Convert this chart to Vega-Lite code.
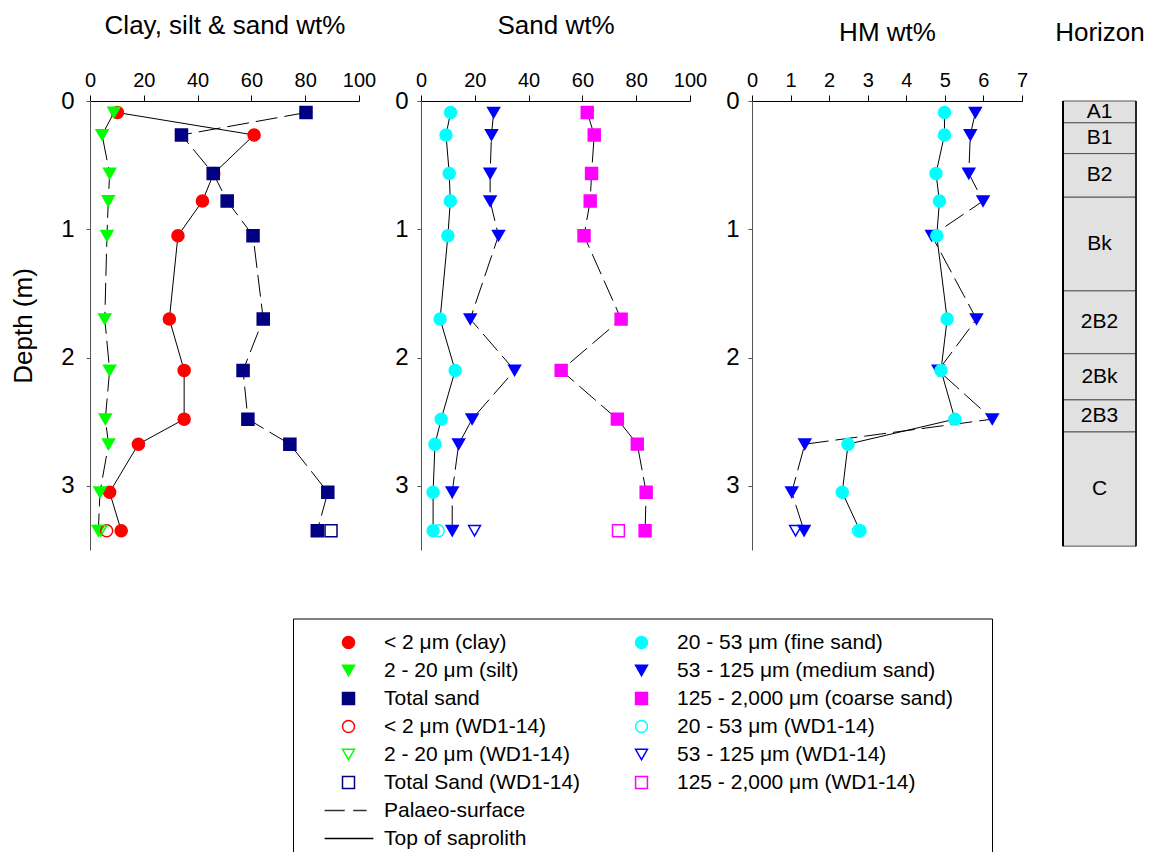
{
  "$schema": "https://vega.github.io/schema/vega-lite/v6.json",
  "background": "white",
  "autosize": {"type": "pad"},
  "padding": {"left": 10, "top": 12, "right": 5, "bottom": 5},
  "bounds": "flush",
  "spacing": 41,
  "config": {
    "font": "Liberation Sans",
    "view": {"stroke": null},
    "axis": {"labelFont": "Liberation Sans", "titleFont": "Liberation Sans", "labelColor": "black", "titleColor": "black", "titleFontWeight": "normal", "grid": false, "labelFlush": false, "labelOverlap": false},
    "legend": {"labelFont": "Liberation Sans", "titleFont": "Liberation Sans"}
  },
  "datasets": {
    "profile": [
      {"panel": "A", "series": "< 2 μm (clay)", "depth": 0.09, "value": 10.2},
      {"panel": "A", "series": "< 2 μm (clay)", "depth": 0.265, "value": 61.0},
      {"panel": "A", "series": "< 2 μm (clay)", "depth": 0.565, "value": 46.0},
      {"panel": "A", "series": "< 2 μm (clay)", "depth": 0.78, "value": 41.8},
      {"panel": "A", "series": "< 2 μm (clay)", "depth": 1.05, "value": 32.7},
      {"panel": "A", "series": "< 2 μm (clay)", "depth": 1.70, "value": 29.5},
      {"panel": "A", "series": "< 2 μm (clay)", "depth": 2.10, "value": 35.0},
      {"panel": "A", "series": "< 2 μm (clay)", "depth": 2.48, "value": 35.0},
      {"panel": "A", "series": "< 2 μm (clay)", "depth": 2.675, "value": 18.0},
      {"panel": "A", "series": "< 2 μm (clay)", "depth": 3.05, "value": 7.3},
      {"panel": "A", "series": "< 2 μm (clay)", "depth": 3.35, "value": 11.6},
      {"panel": "A", "series": "2 - 20 μm (silt)", "depth": 0.09, "value": 8.9},
      {"panel": "A", "series": "2 - 20 μm (silt)", "depth": 0.265, "value": 4.5},
      {"panel": "A", "series": "2 - 20 μm (silt)", "depth": 0.565, "value": 7.3},
      {"panel": "A", "series": "2 - 20 μm (silt)", "depth": 0.78, "value": 6.8},
      {"panel": "A", "series": "2 - 20 μm (silt)", "depth": 1.05, "value": 6.3},
      {"panel": "A", "series": "2 - 20 μm (silt)", "depth": 1.70, "value": 5.5},
      {"panel": "A", "series": "2 - 20 μm (silt)", "depth": 2.10, "value": 7.3},
      {"panel": "A", "series": "2 - 20 μm (silt)", "depth": 2.48, "value": 5.7},
      {"panel": "A", "series": "2 - 20 μm (silt)", "depth": 2.675, "value": 6.9},
      {"panel": "A", "series": "2 - 20 μm (silt)", "depth": 3.05, "value": 3.7},
      {"panel": "A", "series": "2 - 20 μm (silt)", "depth": 3.35, "value": 3.1},
      {"panel": "A", "series": "Total sand", "depth": 0.09, "value": 80.3},
      {"panel": "A", "series": "Total sand", "depth": 0.265, "value": 34.0},
      {"panel": "A", "series": "Total sand", "depth": 0.565, "value": 45.8},
      {"panel": "A", "series": "Total sand", "depth": 0.78, "value": 51.0},
      {"panel": "A", "series": "Total sand", "depth": 1.05, "value": 60.6},
      {"panel": "A", "series": "Total sand", "depth": 1.70, "value": 64.4},
      {"panel": "A", "series": "Total sand", "depth": 2.10, "value": 56.9},
      {"panel": "A", "series": "Total sand", "depth": 2.48, "value": 58.7},
      {"panel": "A", "series": "Total sand", "depth": 2.675, "value": 74.3},
      {"panel": "A", "series": "Total sand", "depth": 3.05, "value": 88.4},
      {"panel": "A", "series": "Total sand", "depth": 3.35, "value": 84.5},
      {"panel": "A", "series": "< 2 μm (WD1-14)", "depth": 3.35, "value": 6.2},
      {"panel": "A", "series": "2 - 20 μm (WD1-14)", "depth": 3.35, "value": 4.0},
      {"panel": "A", "series": "Total Sand (WD1-14)", "depth": 3.35, "value": 89.6},
      {"panel": "B", "series": "20 - 53 μm (fine sand)", "depth": 0.09, "value": 11.0},
      {"panel": "B", "series": "20 - 53 μm (fine sand)", "depth": 0.265, "value": 9.3},
      {"panel": "B", "series": "20 - 53 μm (fine sand)", "depth": 0.565, "value": 10.5},
      {"panel": "B", "series": "20 - 53 μm (fine sand)", "depth": 0.78, "value": 10.9},
      {"panel": "B", "series": "20 - 53 μm (fine sand)", "depth": 1.05, "value": 10.0},
      {"panel": "B", "series": "20 - 53 μm (fine sand)", "depth": 1.70, "value": 7.1},
      {"panel": "B", "series": "20 - 53 μm (fine sand)", "depth": 2.10, "value": 12.7},
      {"panel": "B", "series": "20 - 53 μm (fine sand)", "depth": 2.48, "value": 7.5},
      {"panel": "B", "series": "20 - 53 μm (fine sand)", "depth": 2.675, "value": 5.2},
      {"panel": "B", "series": "20 - 53 μm (fine sand)", "depth": 3.05, "value": 4.5},
      {"panel": "B", "series": "20 - 53 μm (fine sand)", "depth": 3.35, "value": 4.5},
      {"panel": "B", "series": "53 - 125 μm (medium sand)", "depth": 0.09, "value": 27.0},
      {"panel": "B", "series": "53 - 125 μm (medium sand)", "depth": 0.265, "value": 26.2},
      {"panel": "B", "series": "53 - 125 μm (medium sand)", "depth": 0.565, "value": 25.7},
      {"panel": "B", "series": "53 - 125 μm (medium sand)", "depth": 0.78, "value": 25.7},
      {"panel": "B", "series": "53 - 125 μm (medium sand)", "depth": 1.05, "value": 28.8},
      {"panel": "B", "series": "53 - 125 μm (medium sand)", "depth": 1.70, "value": 18.3},
      {"panel": "B", "series": "53 - 125 μm (medium sand)", "depth": 2.10, "value": 34.8},
      {"panel": "B", "series": "53 - 125 μm (medium sand)", "depth": 2.48, "value": 19.0},
      {"panel": "B", "series": "53 - 125 μm (medium sand)", "depth": 2.675, "value": 14.0},
      {"panel": "B", "series": "53 - 125 μm (medium sand)", "depth": 3.05, "value": 11.6},
      {"panel": "B", "series": "53 - 125 μm (medium sand)", "depth": 3.35, "value": 11.6},
      {"panel": "B", "series": "125 - 2,000 μm (coarse sand)", "depth": 0.09, "value": 61.8},
      {"panel": "B", "series": "125 - 2,000 μm (coarse sand)", "depth": 0.265, "value": 64.4},
      {"panel": "B", "series": "125 - 2,000 μm (coarse sand)", "depth": 0.565, "value": 63.4},
      {"panel": "B", "series": "125 - 2,000 μm (coarse sand)", "depth": 0.78, "value": 62.9},
      {"panel": "B", "series": "125 - 2,000 μm (coarse sand)", "depth": 1.05, "value": 60.6},
      {"panel": "B", "series": "125 - 2,000 μm (coarse sand)", "depth": 1.70, "value": 74.4},
      {"panel": "B", "series": "125 - 2,000 μm (coarse sand)", "depth": 2.10, "value": 52.1},
      {"panel": "B", "series": "125 - 2,000 μm (coarse sand)", "depth": 2.48, "value": 73.0},
      {"panel": "B", "series": "125 - 2,000 μm (coarse sand)", "depth": 2.675, "value": 80.4},
      {"panel": "B", "series": "125 - 2,000 μm (coarse sand)", "depth": 3.05, "value": 83.7},
      {"panel": "B", "series": "125 - 2,000 μm (coarse sand)", "depth": 3.35, "value": 83.3},
      {"panel": "B", "series": "20 - 53 μm (WD1-14)", "depth": 3.35, "value": 6.4},
      {"panel": "B", "series": "53 - 125 μm (WD1-14)", "depth": 3.35, "value": 19.9},
      {"panel": "B", "series": "125 - 2,000 μm (WD1-14)", "depth": 3.35, "value": 73.4},
      {"panel": "C", "series": "53 - 125 μm (medium sand)", "depth": 0.09, "value": 5.79},
      {"panel": "C", "series": "53 - 125 μm (medium sand)", "depth": 0.265, "value": 5.66},
      {"panel": "C", "series": "53 - 125 μm (medium sand)", "depth": 0.565, "value": 5.62},
      {"panel": "C", "series": "53 - 125 μm (medium sand)", "depth": 0.78, "value": 5.99},
      {"panel": "C", "series": "53 - 125 μm (medium sand)", "depth": 1.05, "value": 4.66},
      {"panel": "C", "series": "53 - 125 μm (medium sand)", "depth": 1.70, "value": 5.82},
      {"panel": "C", "series": "53 - 125 μm (medium sand)", "depth": 2.10, "value": 4.83},
      {"panel": "C", "series": "53 - 125 μm (medium sand)", "depth": 2.48, "value": 6.23},
      {"panel": "C", "series": "53 - 125 μm (medium sand)", "depth": 2.675, "value": 1.37},
      {"panel": "C", "series": "53 - 125 μm (medium sand)", "depth": 3.05, "value": 1.03},
      {"panel": "C", "series": "53 - 125 μm (medium sand)", "depth": 3.35, "value": 1.35},
      {"panel": "C", "series": "20 - 53 μm (fine sand)", "depth": 0.09, "value": 4.99},
      {"panel": "C", "series": "20 - 53 μm (fine sand)", "depth": 0.265, "value": 4.99},
      {"panel": "C", "series": "20 - 53 μm (fine sand)", "depth": 0.565, "value": 4.77},
      {"panel": "C", "series": "20 - 53 μm (fine sand)", "depth": 0.78, "value": 4.86},
      {"panel": "C", "series": "20 - 53 μm (fine sand)", "depth": 1.05, "value": 4.79},
      {"panel": "C", "series": "20 - 53 μm (fine sand)", "depth": 1.70, "value": 5.06},
      {"panel": "C", "series": "20 - 53 μm (fine sand)", "depth": 2.10, "value": 4.90},
      {"panel": "C", "series": "20 - 53 μm (fine sand)", "depth": 2.48, "value": 5.26},
      {"panel": "C", "series": "20 - 53 μm (fine sand)", "depth": 2.675, "value": 2.49},
      {"panel": "C", "series": "20 - 53 μm (fine sand)", "depth": 3.05, "value": 2.34},
      {"panel": "C", "series": "20 - 53 μm (fine sand)", "depth": 3.35, "value": 2.80},
      {"panel": "C", "series": "20 - 53 μm (WD1-14)", "depth": 3.35, "value": 2.76},
      {"panel": "C", "series": "53 - 125 μm (WD1-14)", "depth": 3.35, "value": 1.13}
    ],
    "boundaries": [
      {"boundary": "Palaeo-surface", "depth": 1.5},
      {"boundary": "Top of saprolith", "depth": 2.6}
    ],
    "horizons": [
      {"horizon": "A1", "top": 0.0, "bottom": 0.17},
      {"horizon": "B1", "top": 0.17, "bottom": 0.41},
      {"horizon": "B2", "top": 0.41, "bottom": 0.75},
      {"horizon": "Bk", "top": 0.75, "bottom": 1.48},
      {"horizon": "2B2", "top": 1.48, "bottom": 1.97},
      {"horizon": "2Bk", "top": 1.97, "bottom": 2.33},
      {"horizon": "2B3", "top": 2.33, "bottom": 2.58},
      {"horizon": "C", "top": 2.58, "bottom": 3.47}
    ]
  },
  "resolve": {"scale": {"fill": "shared", "stroke": "shared", "shape": "shared", "size": "shared"}},
  "hconcat": [
    {
      "width": 290, "height": 449,
      "data": {"name": "profile"},
      "encoding": {
        "x": {"field": "value", "type": "quantitative", "scale": {"domain": [0, 100], "range": [0, 269], "nice": false, "zero": false},
              "axis": {"orient": "top", "values": [0, 20, 40, 60, 80, 100], "tickSize": 6, "labelPadding": 5, "labelFontSize": 20, "domainColor": "black", "tickColor": "black", "title": "Clay, silt & sand wt%", "titleFontSize": 26, "titleBaseline": "alphabetic", "titleY": -67.5}},
        "y": {"field": "depth", "type": "quantitative", "scale": {"domain": [0, 3.5], "reverse": true, "nice": false, "zero": false},
              "axis": {"orient": "left", "values": [0, 1, 2, 3], "tickSize": 4, "labelPadding": 12, "labelFontSize": 24, "domainColor": "#555555", "tickColor": "#555555", "title": "Depth (m)", "titleFontSize": 26, "titleBaseline": "alphabetic", "titleAngle": -90, "titleX": -59, "titleY": 224.5}}
      },
      "layer": [
        {"data": {"name": "boundaries"}, "transform": [{"filter": "datum.boundary === 'Palaeo-surface'"}], "mark": {"type": "rule", "color": "#333333", "strokeWidth": 1.3, "strokeDash": [15, 8]}, "encoding": {"x": {"datum": 0, "type": "quantitative"}, "x2": {"datum": 100}}},
        {"data": {"name": "boundaries"}, "transform": [{"filter": "datum.boundary === 'Top of saprolith'"}], "mark": {"type": "rule", "color": "black", "strokeWidth": 1.3}, "encoding": {"x": {"datum": 0, "type": "quantitative"}, "x2": {"datum": 100}}},
        {"transform": [{"filter": "datum.series === '< 2 μm (clay)'"}], "mark": {"type": "line", "color": "black", "strokeWidth": 1}, "encoding": {"order": {"field": "depth", "type": "quantitative"}}},
        {"transform": [{"filter": "datum.series === '2 - 20 μm (silt)'"}], "mark": {"type": "line", "color": "black", "strokeWidth": 1, "strokeDash": [22, 7]}, "encoding": {"order": {"field": "depth", "type": "quantitative"}}},
        {"transform": [{"filter": "datum.series === 'Total sand'"}], "mark": {"type": "line", "color": "black", "strokeWidth": 1, "strokeDash": [22, 7]}, "encoding": {"order": {"field": "depth", "type": "quantitative"}}},
        {"transform": [{"filter": "datum.panel === 'A'"}], "mark": {"type": "point", "opacity": 1, "strokeWidth": 1.5},
         "encoding": {
           "fill": {"field": "series", "type": "nominal",
             "scale": {"domain": ["< 2 μm (clay)", "2 - 20 μm (silt)", "Total sand", "< 2 μm (WD1-14)", "2 - 20 μm (WD1-14)", "Total Sand (WD1-14)", "Palaeo-surface", "Top of saprolith", "20 - 53 μm (fine sand)", "53 - 125 μm (medium sand)", "125 - 2,000 μm (coarse sand)", "20 - 53 μm (WD1-14)", "53 - 125 μm (WD1-14)", "125 - 2,000 μm (WD1-14)", " ", "\u200b\u2003\u2003\u2003\u2003\u2003\u2003\u2003\u2003\u2003\u2003\u2003\u2003\u2003\u2003\u2002\u200b"],
                       "range": ["#ff0000", "#00ff00", "#000080", "transparent", "transparent", "transparent", "transparent", "transparent", "#00ffff", "#0000ff", "#ff00ff", "transparent", "transparent", "transparent", "transparent", "transparent"]},
             "legend": {"orient": "none", "legendX": 203, "legendY": 517.5, "direction": "vertical", "columns": 2, "columnPadding": 36, "rowPadding": 0, "clipHeight": 28, "symbolSize": 140, "symbolOffset": 14, "labelFontSize": 21, "labelColor": "black", "labelOffset": 25, "labelLimit": 500, "symbolStrokeWidth": 1.5, "padding": 10, "strokeColor": "black", "fillColor": "white", "title": " ", "titleOrient": "left", "titlePadding": 21, "titleFontSize": 1}},
           "stroke": {"field": "series", "type": "nominal",
             "scale": {"domain": ["< 2 μm (clay)", "2 - 20 μm (silt)", "Total sand", "< 2 μm (WD1-14)", "2 - 20 μm (WD1-14)", "Total Sand (WD1-14)", "Palaeo-surface", "Top of saprolith", "20 - 53 μm (fine sand)", "53 - 125 μm (medium sand)", "125 - 2,000 μm (coarse sand)", "20 - 53 μm (WD1-14)", "53 - 125 μm (WD1-14)", "125 - 2,000 μm (WD1-14)", " ", "\u200b\u2003\u2003\u2003\u2003\u2003\u2003\u2003\u2003\u2003\u2003\u2003\u2003\u2003\u2003\u2002\u200b"],
                       "range": ["#ff0000", "#00ff00", "#000080", "#ff0000", "#00ff00", "#000080", "#333333", "black", "#00ffff", "#0000ff", "#ff00ff", "#00ffff", "#0000ff", "#ff00ff", "transparent", "transparent"]}},
           "shape": {"field": "series", "type": "nominal",
             "scale": {"domain": ["< 2 μm (clay)", "2 - 20 μm (silt)", "Total sand", "< 2 μm (WD1-14)", "2 - 20 μm (WD1-14)", "Total Sand (WD1-14)", "Palaeo-surface", "Top of saprolith", "20 - 53 μm (fine sand)", "53 - 125 μm (medium sand)", "125 - 2,000 μm (coarse sand)", "20 - 53 μm (WD1-14)", "53 - 125 μm (WD1-14)", "125 - 2,000 μm (WD1-14)", " ", "\u200b\u2003\u2003\u2003\u2003\u2003\u2003\u2003\u2003\u2003\u2003\u2003\u2003\u2003\u2003\u2002\u200b"],
                       "range": ["circle", "triangle-down", "square", "circle", "triangle-down", "square", "M-4,0L-0.63,0M0.79,0L3.04,0", "M-4,0L4.17,0", "circle", "triangle-down", "square", "circle", "triangle-down", "square", "circle", "circle"]}},
           "size": {"field": "series", "type": "nominal",
             "scale": {"domain": ["< 2 μm (clay)", "2 - 20 μm (silt)", "Total sand", "< 2 μm (WD1-14)", "2 - 20 μm (WD1-14)", "Total Sand (WD1-14)", "Palaeo-surface", "Top of saprolith", "20 - 53 μm (fine sand)", "53 - 125 μm (medium sand)", "125 - 2,000 μm (coarse sand)", "20 - 53 μm (WD1-14)", "53 - 125 μm (WD1-14)", "125 - 2,000 μm (WD1-14)", " ", "\u200b\u2003\u2003\u2003\u2003\u2003\u2003\u2003\u2003\u2003\u2003\u2003\u2003\u2003\u2003\u2002\u200b"],
                       "range": [145, 140, 105, 100, 110, 95, 140, 140, 145, 140, 105, 100, 110, 95, 100, 100]}}
         }}
      ]
    },
    {
      "width": 290, "height": 449,
      "data": {"name": "profile"},
      "encoding": {
        "x": {"field": "value", "type": "quantitative", "scale": {"domain": [0, 100], "range": [0, 269], "nice": false, "zero": false},
              "axis": {"orient": "top", "values": [0, 20, 40, 60, 80, 100], "tickSize": 6, "labelPadding": 5, "labelFontSize": 20, "domainColor": "black", "tickColor": "black", "title": "Sand wt%", "titleFontSize": 26, "titleBaseline": "alphabetic", "titleY": -67.5}},
        "y": {"field": "depth", "type": "quantitative", "scale": {"domain": [0, 3.5], "reverse": true, "nice": false, "zero": false},
              "axis": {"orient": "left", "values": [0, 1, 2, 3], "tickSize": 4, "labelPadding": 9, "labelFontSize": 24, "domainColor": "#555555", "tickColor": "#555555", "title": null}}
      },
      "layer": [
        {"data": {"name": "boundaries"}, "transform": [{"filter": "datum.boundary === 'Palaeo-surface'"}], "mark": {"type": "rule", "color": "#333333", "strokeWidth": 1.3, "strokeDash": [15, 8]}, "encoding": {"x": {"datum": 0, "type": "quantitative"}, "x2": {"datum": 100}}},
        {"data": {"name": "boundaries"}, "transform": [{"filter": "datum.boundary === 'Top of saprolith'"}], "mark": {"type": "rule", "color": "black", "strokeWidth": 1.3}, "encoding": {"x": {"datum": 0, "type": "quantitative"}, "x2": {"datum": 100}}},
        {"transform": [{"filter": "datum.panel === 'B' && datum.series === '20 - 53 μm (fine sand)'"}], "mark": {"type": "line", "color": "black", "strokeWidth": 1}, "encoding": {"order": {"field": "depth", "type": "quantitative"}}},
        {"transform": [{"filter": "datum.panel === 'B' && datum.series === '53 - 125 μm (medium sand)'"}], "mark": {"type": "line", "color": "black", "strokeWidth": 1, "strokeDash": [22, 7]}, "encoding": {"order": {"field": "depth", "type": "quantitative"}}},
        {"transform": [{"filter": "datum.panel === 'B' && datum.series === '125 - 2,000 μm (coarse sand)'"}], "mark": {"type": "line", "color": "black", "strokeWidth": 1, "strokeDash": [22, 7]}, "encoding": {"order": {"field": "depth", "type": "quantitative"}}},
        {"transform": [{"filter": "datum.panel === 'B'"}], "mark": {"type": "point", "opacity": 1, "strokeWidth": 1.5},
         "encoding": {
           "fill": {"field": "series", "type": "nominal"},
           "stroke": {"field": "series", "type": "nominal"},
           "shape": {"field": "series", "type": "nominal"},
           "size": {"field": "series", "type": "nominal"}
         }}
      ]
    },
    {
      "width": 270, "height": 449,
      "data": {"name": "profile"},
      "encoding": {
        "x": {"field": "value", "type": "quantitative", "scale": {"domain": [0, 7], "nice": false, "zero": false},
              "axis": {"orient": "top", "values": [0, 1, 2, 3, 4, 5, 6, 7], "tickSize": 6, "labelPadding": 5, "labelFontSize": 20, "domainColor": "black", "tickColor": "black", "title": "HM wt%", "titleFontSize": 26, "titleBaseline": "alphabetic", "titleY": -60.5}},
        "y": {"field": "depth", "type": "quantitative", "scale": {"domain": [0, 3.5], "reverse": true, "nice": false, "zero": false},
              "axis": {"orient": "left", "values": [0, 1, 2, 3], "tickSize": 4, "labelPadding": 9, "labelFontSize": 24, "domainColor": "#555555", "tickColor": "#555555", "title": null}}
      },
      "layer": [
        {"data": {"name": "boundaries"}, "transform": [{"filter": "datum.boundary === 'Palaeo-surface'"}], "mark": {"type": "rule", "color": "#333333", "strokeWidth": 1.3, "strokeDash": [15, 8]}, "encoding": {"x": {"datum": 0, "type": "quantitative"}, "x2": {"datum": 7}}},
        {"data": {"name": "boundaries"}, "transform": [{"filter": "datum.boundary === 'Top of saprolith'"}], "mark": {"type": "rule", "color": "black", "strokeWidth": 1.3}, "encoding": {"x": {"datum": 0, "type": "quantitative"}, "x2": {"datum": 7}}},
        {"transform": [{"filter": "datum.panel === 'C' && datum.series === '20 - 53 μm (fine sand)'"}], "mark": {"type": "line", "color": "black", "strokeWidth": 1}, "encoding": {"order": {"field": "depth", "type": "quantitative"}}},
        {"transform": [{"filter": "datum.panel === 'C' && datum.series === '53 - 125 μm (medium sand)'"}], "mark": {"type": "line", "color": "black", "strokeWidth": 1, "strokeDash": [22, 7]}, "encoding": {"order": {"field": "depth", "type": "quantitative"}}},
        {"transform": [{"filter": "datum.panel === 'C'"}], "mark": {"type": "point", "opacity": 1, "strokeWidth": 1.5},
         "encoding": {
           "fill": {"field": "series", "type": "nominal"},
           "stroke": {"field": "series", "type": "nominal"},
           "shape": {"field": "series", "type": "nominal"},
           "size": {"field": "series", "type": "nominal"}
         }}
      ]
    },
    {
      "width": 73, "height": 449,
      "data": {"name": "horizons"},
      "layer": [
        {"mark": {"type": "rect", "fill": "#e1e1e1", "stroke": "#555555", "strokeWidth": 1},
         "encoding": {
           "x": {"datum": 0, "type": "quantitative", "scale": {"domain": [0, 1], "nice": false, "zero": false},
                 "axis": {"orient": "top", "domain": false, "ticks": false, "labels": false, "title": "Horizon", "titleFontSize": 26, "titleBaseline": "alphabetic", "titleY": -60.5}},
           "x2": {"datum": 1},
           "y": {"field": "top", "type": "quantitative", "scale": {"domain": [0, 3.5], "reverse": true, "nice": false, "zero": false}, "axis": null},
           "y2": {"field": "bottom"}
         }},
        {"transform": [{"calculate": "(datum.top + datum.bottom) / 2", "as": "mid"}],
         "mark": {"type": "text", "fontSize": 21, "font": "Liberation Sans", "color": "black", "baseline": "middle", "align": "center"},
         "encoding": {
           "x": {"datum": 0.5, "type": "quantitative"},
           "y": {"field": "mid", "type": "quantitative"},
           "text": {"field": "horizon", "type": "nominal"}
         }},
        {"transform": [{"aggregate": [{"op": "min", "field": "top", "as": "top"}, {"op": "max", "field": "bottom", "as": "bottom"}]}],
         "mark": {"type": "rule", "color": "black", "strokeWidth": 2},
         "encoding": {"x": {"datum": 0, "type": "quantitative"}, "y": {"field": "top", "type": "quantitative"}, "y2": {"field": "bottom"}}},
        {"transform": [{"aggregate": [{"op": "min", "field": "top", "as": "top"}, {"op": "max", "field": "bottom", "as": "bottom"}]}],
         "mark": {"type": "rule", "color": "black", "strokeWidth": 1.5},
         "encoding": {"x": {"datum": 1, "type": "quantitative"}, "y": {"field": "top", "type": "quantitative"}, "y2": {"field": "bottom"}}}
      ]
    }
  ]
}
